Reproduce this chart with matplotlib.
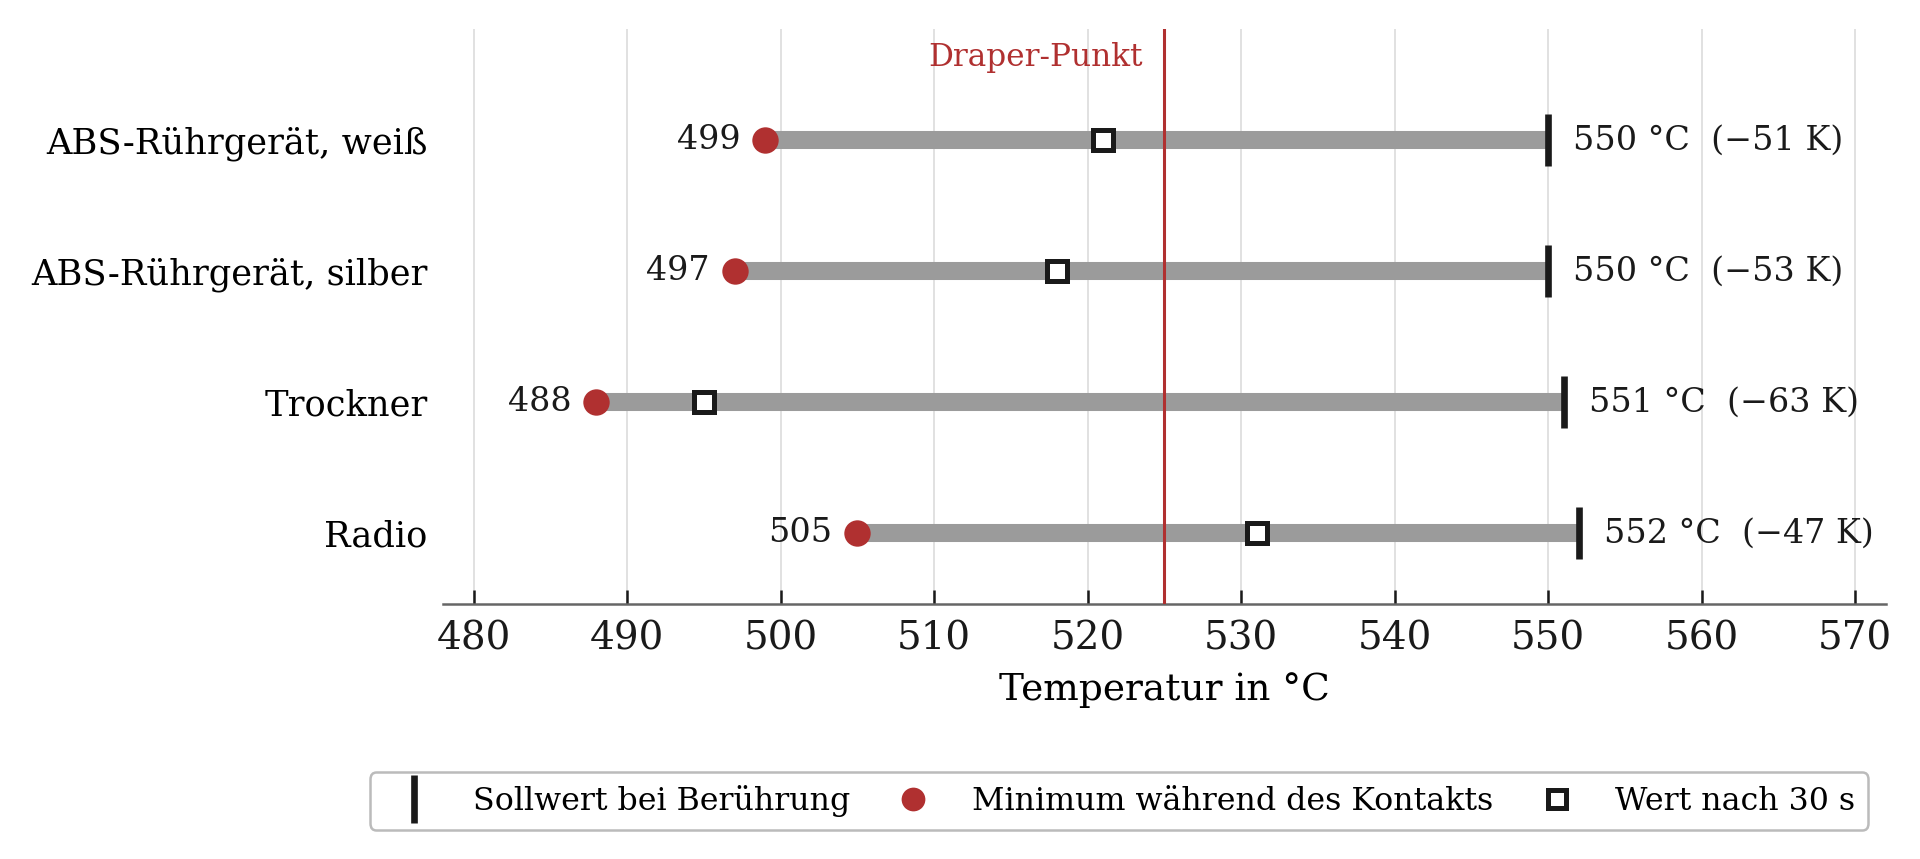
import matplotlib.pyplot as plt
import numpy as np

plt.rcParams['font.family'] = ['DejaVu Serif']

# Messwerte je Gerät (von oben nach unten)
geraete = ["ABS-Rührgerät, weiß", "ABS-Rührgerät, silber", "Trockner", "Radio"]
sollwert = [550, 550, 551, 552]
minimum = [499, 497, 488, 505]
nach_30s = [521, 518, 495, 531]
draper_punkt = 525

x_ticks = [480, 490, 500, 510, 520, 530, 540, 550, 560, 570]

rot = '#b03030'
grau = '#9b9b9b'
schwarz = '#1a1a1a'

fig = plt.figure(figsize=(9.6, 4.295), dpi=200)
ax = fig.add_axes([0.2307, 0.2969, 0.7516, 0.6693])

y = np.arange(len(geraete))[::-1]

# Balken vom Minimum bis zum Sollwert
ax.hlines(y, minimum, sollwert, color=grau, lw=6.5, zorder=2)
ax.axvline(draper_punkt, color=rot, lw=1.1, zorder=3)

sw = ax.plot(sollwert, y, ls='none', marker='|', ms=19, mew=2.4, color=schwarz,
             zorder=4, label='Sollwert bei Berührung')[0]
mn = ax.plot(minimum, y, ls='none', marker='o', ms=9.5, color=rot, mew=0,
             zorder=4, label='Minimum während des Kontakts')[0]
n30 = ax.plot(nach_30s, y, ls='none', marker='s', ms=7.5, mfc='white', mec=schwarz,
              mew=1.8, zorder=5, label='Wert nach 30 s')[0]

for yi, m, s in zip(y, minimum, sollwert):
    ax.annotate(f"{m}", (m, yi), xytext=(-9, 0), textcoords='offset points',
                ha='right', va='center', fontsize=12, color=schwarz)
    ax.annotate(f"{s} °C  (\u2212{s - m} K)", (s, yi), xytext=(9, 0),
                textcoords='offset points', ha='left', va='center',
                fontsize=12, color=schwarz)

ax.annotate("Draper-Punkt", (draper_punkt, 3.63), xytext=(-8, 0),
            textcoords='offset points', ha='right', va='center',
            fontsize=11.2, color=rot)

ax.set_xlim(478, 572)
ax.set_ylim(-0.54, 3.85)
ax.set_xticks(x_ticks)
ax.set_yticks(y)
ax.set_yticklabels(geraete, fontsize=12.7)
ax.tick_params(axis='y', length=0, pad=5.5)
ax.tick_params(axis='x', direction='in', length=5, width=0.9, colors=schwarz,
               labelsize=14, pad=6)
ax.grid(axis='x', color='#dcdcdc', lw=0.6, zorder=0)
ax.set_axisbelow(True)
for side in ['top', 'right', 'left']:
    ax.spines[side].set_visible(False)
ax.spines['bottom'].set_color('#666666')
ax.spines['bottom'].set_linewidth(0.9)
ax.set_xlabel("Temperatur in °C", fontsize=13.5, labelpad=5)

leg = fig.legend(handles=[sw, mn, n30], loc='center', ncol=3,
                 bbox_to_anchor=(1119 / 1920, 1 - 801 / 859), fontsize=11.4,
                 frameon=True, markerscale=0.9, handletextpad=0.85,
                 columnspacing=1.0)
leg.get_frame().set_edgecolor('#aaaaaa')
leg.get_frame().set_linewidth(0.9)

fig.savefig('out.png', dpi=200)
